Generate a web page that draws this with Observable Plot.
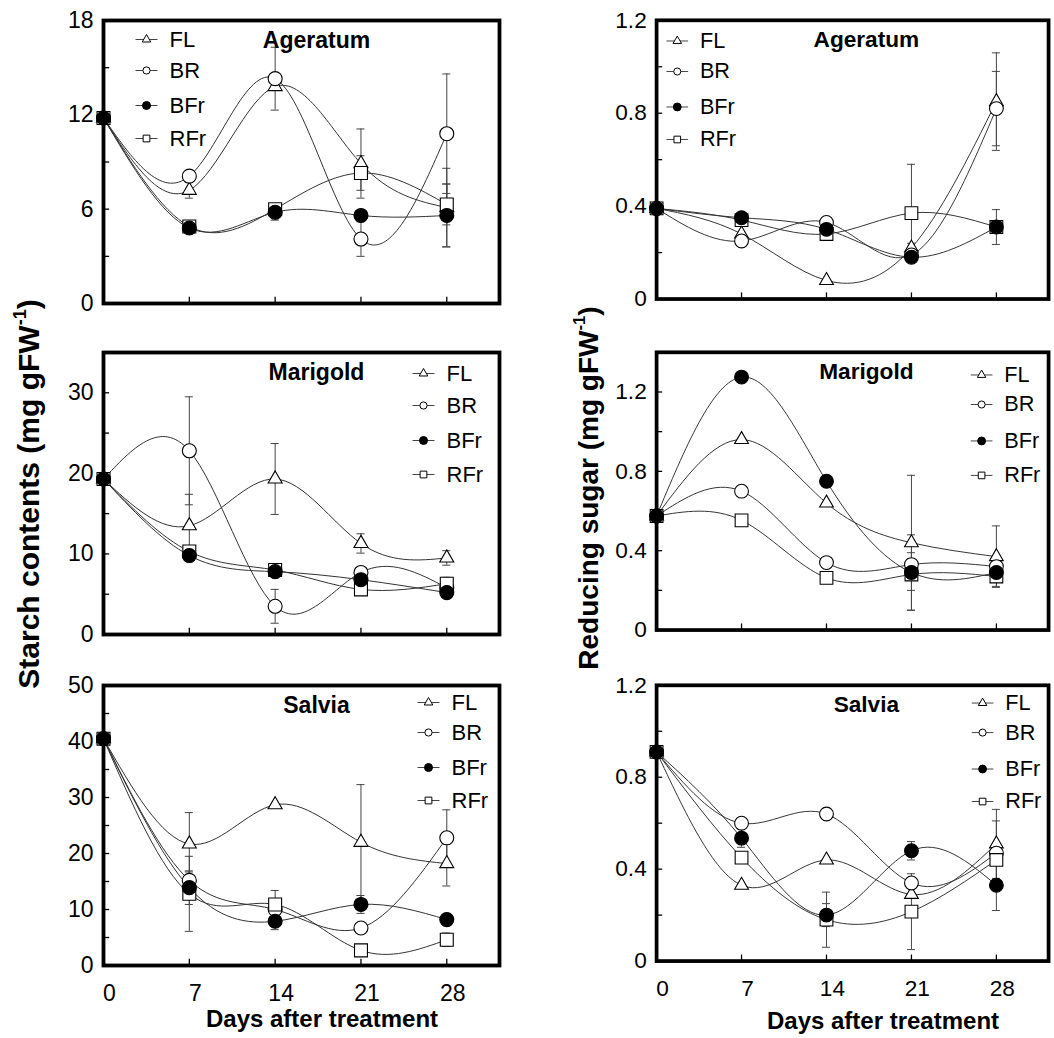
<!DOCTYPE html>
<html>
<head>
<meta charset="utf-8">
<script src="https://cdn.jsdelivr.net/npm/d3@7"></script>
<script src="https://cdn.jsdelivr.net/npm/@observablehq/plot@0.6"></script>
<style>
  body { margin: 0; background: #fff; }
  #page { position: relative; width: 1054px; height: 1038px; overflow: hidden;
          font-family: "Liberation Sans", Arial, sans-serif; color: #000; }
  .panel { position: absolute; }
  .ytitle { position: absolute; font-weight: bold; white-space: nowrap;
            transform: translate(-50%, -50%) rotate(-90deg); }
  .xtitle { position: absolute; font-weight: bold; white-space: nowrap;
            transform: translate(-50%, -50%); font-size: 24px; }
  sup { font-size: 0.6em; vertical-align: 0.75em; line-height: 0; }
</style>
</head>
<body>
<div id="page"></div>
<script>
// ---------- data ----------
const days = [0, 7, 14, 21, 28];
const seriesNames = ["FL", "BR", "BFr", "RFr"];

// Ageratum – starch (mg gFW-1); rows: FL, BR, BFr, RFr
const ageratumStarch = [
  [11.8, 7.2, 13.8, 8.9, 6.1],
  [11.8, 8.1, 14.3, 4.1, 10.8],
  [11.8, 4.8, 5.8, 5.6, 5.6],
  [11.8, 4.9, 6.0, 8.3, 6.3]
];
const ageratumStarchErr = [
  [0, 0.5, 0, 2.2, 2.5],
  [0, 0, 2.0, 1.1, 3.8],
  [0, 0, 0.5, 0, 2.0],
  [0, 0, 0, 1.1, 1.3]
];
// Ageratum – reducing sugar
const ageratumSugar = [
  [0.39, 0.28, 0.08, 0.22, 0.85],
  [0.39, 0.25, 0.33, 0.19, 0.82],
  [0.39, 0.35, 0.30, 0.18, 0.31],
  [0.39, 0.34, 0.28, 0.37, 0.31]
];
const ageratumSugarErr = [
  [0, 0, 0, 0.02, 0.21],
  [0, 0, 0, 0, 0.16],
  [0, 0, 0, 0, 0.075],
  [0, 0, 0, 0.21, 0]
];
// Marigold – starch
const marigoldStarch = [
  [19.3, 13.5, 19.3, 11.3, 9.5],
  [19.3, 22.8, 3.5, 7.7, 5.8],
  [19.3, 9.8, 7.8, 6.8, 5.2],
  [19.3, 10.3, 8.0, 5.6, 6.3]
];
const marigoldStarchErr = [
  [0, 3.9, 4.4, 1.2, 0.9],
  [0, 6.7, 2.1, 0, 0],
  [0, 0, 0, 0, 0],
  [0, 0, 0, 0, 0.8]
];
// Marigold – reducing sugar
const marigoldSugar = [
  [0.575, 0.96, 0.64, 0.44, 0.37],
  [0.575, 0.70, 0.34, 0.33, 0.32],
  [0.575, 1.275, 0.75, 0.29, 0.29],
  [0.575, 0.553, 0.263, 0.28, 0.27]
];
const marigoldSugarErr = [
  [0, 0, 0, 0.34, 0.155],
  [0, 0, 0, 0.06, 0],
  [0, 0, 0, 0.19, 0],
  [0, 0, 0, 0.08, 0.05]
];
// Salvia – starch
const salviaStarch = [
  [40.5, 21.7, 28.7, 22.0, 18.2],
  [40.5, 15.2, 10.0, 6.7, 22.8],
  [40.5, 13.9, 7.9, 10.9, 8.2],
  [40.5, 12.8, 10.9, 2.7, 4.6]
];
const salviaStarchErr = [
  [0, 5.6, 0, 10.3, 4.0],
  [0, 1.5, 0, 0, 5.0],
  [0, 3.0, 1.5, 1.6, 0],
  [0, 6.7, 2.5, 0, 1.2]
];
// Salvia – reducing sugar
const salviaSugar = [
  [0.91, 0.33, 0.44, 0.29, 0.51],
  [0.91, 0.60, 0.64, 0.34, 0.47],
  [0.91, 0.535, 0.20, 0.48, 0.33],
  [0.91, 0.45, 0.18, 0.215, 0.44]
];
const salviaSugarErr = [
  [0, 0, 0, 0, 0.15],
  [0, 0, 0, 0, 0.14],
  [0, 0.04, 0.05, 0.04, 0.11],
  [0, 0, 0.12, 0.165, 0]
];

// axis ticks
const starchTicksA = [0, 6, 12, 18], starchMinorA = [3, 9, 15];
const starchTicksM = [0, 10, 20, 30], starchMinorM = [5, 15, 25];
const starchTicksS = [0, 10, 20, 30, 40, 50], starchMinorS = [5, 15, 25, 35, 45];
const sugarTicks = [0, 0.4, 0.8, 1.2], sugarMinor = [0.2, 0.6, 1.0];
const dayTicks = [7, 14, 21, 28];

// ---------- drawing ----------
const page = document.getElementById("page");
const FONT = "'Liberation Sans', Arial, Helvetica, sans-serif";

const lineSymbol = { draw(ctx) { ctx.moveTo(-11, 0); ctx.lineTo(11, 0); } };
const symStyle = [
  { symbol: "triangle", r: 5.2, fill: "white" },
  { symbol: "circle", r: 7, fill: "white" },
  { symbol: "circle", r: 7, fill: "black" },
  { symbol: "square", r: 7.3, fill: "white" }
];
const legSym = [
  { symbol: "triangle", r: 3.2, fill: "white" },
  { symbol: "circle", r: 3.6, fill: "white" },
  { symbol: "circle", r: 4, fill: "black" },
  { symbol: "square", r: 3.8, fill: "white" }
];

function makePanel(cfg) {
  const { values, errs, yMax, yMajor, yMinor, title, legDx, legRows,
          fLeft, fRight, fTop, fBottom, bottomRow } = cfg;
  const mL = 60, mT = 12, mR = 6, mB = bottomRow ? 55 : 12;
  const svgLeft = fLeft - mL, svgTop = fTop - mT;
  const width = fRight - fLeft + mL + mR;
  const height = fBottom - fTop + mT + mB;

  const rows = [];
  seriesNames.forEach((s, i) => days.forEach((d, j) =>
    rows.push({ series: s, si: i, day: d, value: values[i][j], err: errs[i][j] })));
  const erows = rows.filter(r => r.err > 0);

  const marks = [
    Plot.frame({ stroke: "black", strokeWidth: 3.8 }),
    Plot.axisY(yMajor, { tickSize: 0, tickPadding: 10, fontSize: 23, label: null,
                         tickFormat: d => String(d) }),
    Plot.ruleY(yMajor.concat(yMinor).filter(v => v > 0 && v < yMax),
               { x1: 0, x2: 0.5, stroke: "black", strokeWidth: 1.3 }),
    Plot.ruleX(dayTicks, { y1: 0, y2: yMax * 0.022, stroke: "black", strokeWidth: 1.3 }),
    Plot.line(rows, { x: "day", y: "value", z: "series", curve: "natural",
                      stroke: "#333", strokeWidth: 1 }),
    Plot.ruleX(erows, { x: "day", y1: d => Math.max(0, d.value - d.err), y2: d => d.value + d.err,
                        stroke: "#444", strokeWidth: 1 }),
    Plot.ruleY(erows, { y: d => d.value + d.err, x1: d => d.day - 0.33, x2: d => d.day + 0.33,
                        stroke: "#444", strokeWidth: 1 }),
    Plot.ruleY(erows.filter(d => d.value - d.err > 0),
               { y: d => d.value - d.err, x1: d => d.day - 0.33, x2: d => d.day + 0.33,
                 stroke: "#444", strokeWidth: 1 })
  ];
  [0, 1, 3, 2].forEach(i => {
    marks.push(Plot.dot(rows.filter(r => r.si === i), {
      x: "day", y: "value", ...symStyle[i], stroke: "black", strokeWidth: 1.1 }));
  });
  // panel title
  marks.push(Plot.text([title], { frameAnchor: "top-left", dx: 213, dy: 20, text: d => d,
    fontSize: 23, fontWeight: "bold", textAnchor: "middle", lineAnchor: "middle" }));
  // legend
  seriesNames.forEach((s, i) => {
    marks.push(Plot.dot([s], { frameAnchor: "top-left", dx: legDx, dy: legRows[i],
      symbol: lineSymbol, stroke: "#444", strokeWidth: 1, fill: "none" }));
    marks.push(Plot.dot([s], { frameAnchor: "top-left", dx: legDx, dy: legRows[i],
      ...legSym[i], stroke: "black", strokeWidth: 1 }));
    marks.push(Plot.text([s], { frameAnchor: "top-left", dx: legDx + 23, dy: legRows[i],
      text: d => d, fontSize: 22, textAnchor: "start", lineAnchor: "middle" }));
  });
  if (bottomRow) {
    marks.push(Plot.axisX(days, { tickSize: 0, tickPadding: 19, fontSize: 23, dx: 6,
                                  label: null, tickFormat: d => String(d) }));
  }

  const chart = Plot.plot({
    width, height,
    marginLeft: mL, marginRight: mR, marginTop: mT, marginBottom: mB,
    x: { domain: [0, 32.3], ...(bottomRow ? {} : { axis: null }) },
    y: { domain: [0, yMax] },
    style: { fontFamily: FONT, background: "transparent", overflow: "visible", color: "black" },
    marks
  });
  const wrap = document.createElement("div");
  wrap.className = "panel";
  wrap.style.left = svgLeft + "px";
  wrap.style.top = svgTop + "px";
  wrap.appendChild(chart);
  page.appendChild(wrap);
}

const L = { fLeft: 103, fRight: 499 };
const R = { fLeft: 657, fRight: 1055 };
const ROW1 = { fTop: 20, fBottom: 303 };
const ROW2 = { fTop: 352, fBottom: 634 };
const ROW3 = { fTop: 685, fBottom: 965 };

makePanel({ ...L, ...ROW1, values: ageratumStarch, errs: ageratumStarchErr, yMax: 18,
  yMajor: starchTicksA, yMinor: starchMinorA, title: "Ageratum", legDx: 43, legRows: [19, 50, 85, 118] });
makePanel({ ...R, ...ROW1, values: ageratumSugar, errs: ageratumSugarErr, yMax: 1.2,
  yMajor: sugarTicks, yMinor: sugarMinor, title: "Ageratum", legDx: 21, legRows: [21, 52, 88, 121] });
makePanel({ ...L, ...ROW2, values: marigoldStarch, errs: marigoldStarchErr, yMax: 35,
  yMajor: starchTicksM, yMinor: starchMinorM, title: "Marigold", legDx: 320, legRows: [21, 53, 88, 122] });
makePanel({ ...R, ...ROW2, values: marigoldSugar, errs: marigoldSugarErr, yMax: 1.4,
  yMajor: sugarTicks, yMinor: sugarMinor, title: "Marigold", legDx: 330, legRows: [23, 53, 90, 125] });
makePanel({ ...L, ...ROW3, values: salviaStarch, errs: salviaStarchErr, yMax: 50,
  yMajor: starchTicksS, yMinor: starchMinorS, title: "Salvia", legDx: 325, legRows: [17, 47, 82, 115], bottomRow: true });
makePanel({ ...R, ...ROW3, values: salviaSugar, errs: salviaSugarErr, yMax: 1.2,
  yMajor: sugarTicks, yMinor: sugarMinor, title: "Salvia", legDx: 331, legRows: [18, 48, 85, 118], bottomRow: true });

// axis titles
function addText(cls, html, x, y, size) {
  const el = document.createElement("div");
  el.className = cls;
  el.innerHTML = html;
  el.style.left = x + "px";
  el.style.top = y + "px";
  if (size) el.style.fontSize = size + "px";
  page.appendChild(el);
}
addText("ytitle", "Starch contents (mg gFW<sup>-1</sup>)", 29, 494, 30);
addText("ytitle", "Reducing sugar (mg gFW<sup>-1</sup>)", 589, 488, 28);
addText("xtitle", "Days after treatment", 322, 1019);
addText("xtitle", "Days after treatment", 883, 1021);
</script>
</body>
</html>
